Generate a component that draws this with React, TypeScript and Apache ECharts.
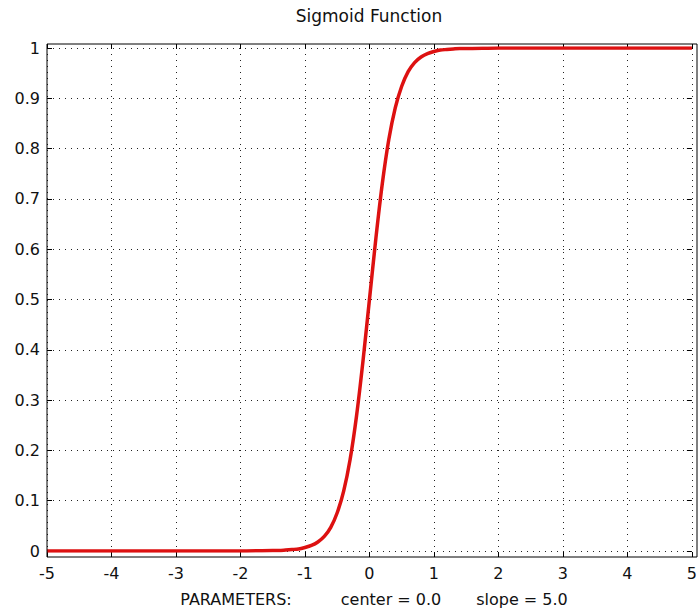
import React, { useEffect, useRef } from "react";
import * as echarts from "echarts";

const titleText = "Sigmoid Function";
const paramLabel = "PARAMETERS:";
const centerLabel = "center = 0.0";
const slopeLabel = "slope = 5.0";

// points
const xValues = [-5, -4, -3, -2, -1.5, -1.4, -1.3, -1.2, -1.1, -1, -0.9, -0.8, -0.7, -0.6, -0.5, -0.4, -0.3, -0.2, -0.1, 0, 0.1, 0.2, 0.3, 0.4, 0.5, 0.6, 0.7, 0.8, 0.9, 1, 1.1, 1.2, 1.3, 1.4, 1.5, 2, 3, 4, 5];
const yValues = [0, 0, 0, 0, 0.001, 0.001, 0.002, 0.003, 0.004, 0.007, 0.011, 0.018, 0.029, 0.047, 0.076, 0.119, 0.182, 0.269, 0.378, 0.5, 0.622, 0.731, 0.818, 0.881, 0.924, 0.953, 0.971, 0.982, 0.989, 0.993, 0.996, 0.997, 0.998, 0.999, 0.999, 1, 1, 1, 1];

const FONT = "DejaVu Sans";

export default function App() {
  const ref = useRef<HTMLDivElement>(null);
  useEffect(() => {
    if (!ref.current) return;
    const chart = echarts.init(ref.current, null, { renderer: "svg" });
    const data = xValues.map((x, i) => [x, yValues[i]]);
    const tickStyle = { show: true, inside: true, length: 5, lineStyle: { color: "#000", width: 1 } };
    const gridDots = { show: true, lineStyle: { color: "#222", width: 1, type: [1, 5] as any } };
    const hiddenLine = { show: false, onZero: false };
    chart.setOption({
      animation: false,
      backgroundColor: "#fff",
      grid: { left: 47, right: 3, top: 48, bottom: 61, containLabel: false },
      xAxis: [
        {
          type: "value", min: -5, max: 5, interval: 1, position: "bottom", offset: 6,
          axisLine: hiddenLine, axisTick: tickStyle,
          axisLabel: { show: true, margin: 8, color: "#111", fontFamily: FONT, fontSize: 16 },
          splitLine: gridDots,
        },
        {
          type: "value", min: -5, max: 5, interval: 1, position: "top", offset: 4,
          axisLine: hiddenLine, axisTick: tickStyle, axisLabel: { show: false }, splitLine: { show: false },
        },
      ],
      yAxis: [
        {
          type: "value", min: 0, max: 1, interval: 0.1, position: "left",
          axisLine: hiddenLine, axisTick: tickStyle,
          axisLabel: { show: true, margin: 7, color: "#111", fontFamily: FONT, fontSize: 16 },
          splitLine: gridDots,
        },
        {
          type: "value", min: 0, max: 1, interval: 0.1, position: "right",
          axisLine: hiddenLine, axisTick: tickStyle, axisLabel: { show: false }, splitLine: { show: false },
        },
      ],
      series: [
        {
          type: "line", data, xAxisIndex: 0, yAxisIndex: 0,
          smooth: 0.25, showSymbol: false, symbol: "none",
          lineStyle: { color: "#dd1111", width: 3.5 },
          z: 5,
        },
      ],
      graphic: [
        {
          type: "rect", shape: { x: 47, y: 44, width: 650, height: 513 },
          style: { fill: "none", stroke: "#000", lineWidth: 1 }, z: 10, silent: true,
        },
        {
          type: "text", x: 369, y: 16,
          style: { text: titleText, fill: "#111", font: `17px "${FONT}"`, textAlign: "center", textVerticalAlign: "middle" },
        },
        {
          type: "text", x: 236, y: 599,
          style: { text: paramLabel, fill: "#111", font: `16px "${FONT}"`, textAlign: "center", textVerticalAlign: "middle" },
        },
        {
          type: "text", x: 391, y: 599,
          style: { text: centerLabel, fill: "#111", font: `16px "${FONT}"`, textAlign: "center", textVerticalAlign: "middle" },
        },
        {
          type: "text", x: 522, y: 599,
          style: { text: slopeLabel, fill: "#111", font: `16px "${FONT}"`, textAlign: "center", textVerticalAlign: "middle" },
        },
      ],
    });
    return () => chart.dispose();
  }, []);
  return <div ref={ref} style={{ width: 700, height: 612, position: "absolute", left: 0, top: 0 }} />;
}
